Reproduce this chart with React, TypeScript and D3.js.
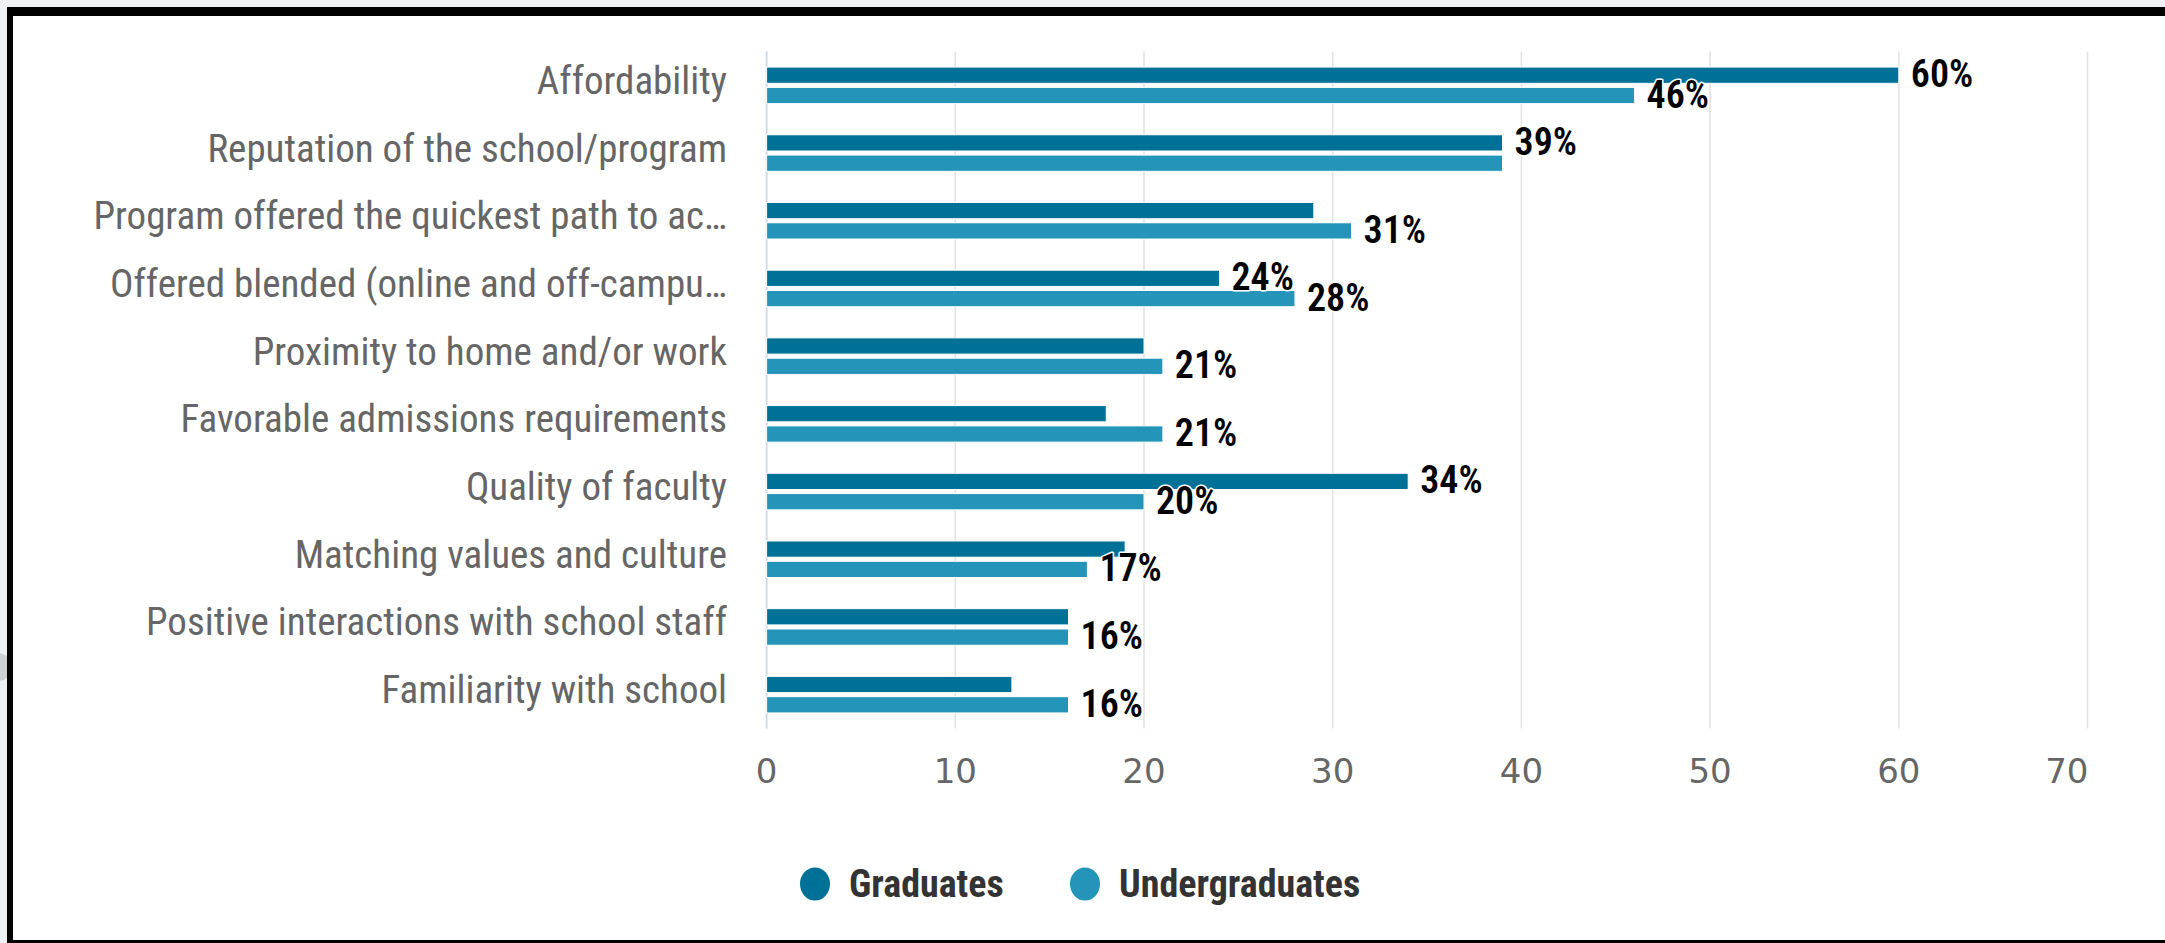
import React from "react";
import * as d3 from "d3";

const categories = [
  "Affordability",
  "Reputation of the school/program",
  "Program offered the quickest path to ac…",
  "Offered blended (online and off-campu…",
  "Proximity to home and/or work",
  "Favorable admissions requirements",
  "Quality of faculty",
  "Matching values and culture",
  "Positive interactions with school staff",
  "Familiarity with school",
];
const seriesNames = ["Graduates", "Undergraduates"];
const graduates = [60, 39, 29, 24, 20, 18, 34, 19, 16, 13];
const undergraduates = [46, 39, 31, 28, 21, 21, 20, 17, 16, 16];
// which data labels survive the overlap hiding in the original
const graduatesLabelShown = [true, true, false, true, false, false, true, false, false, false];
const undergraduatesLabelShown = [true, false, true, true, true, true, true, true, true, true];
const xTicks = [0, 10, 20, 30, 40, 50, 60, 70];

const W = 2165;
const H = 943;
const COLORS = ["#007196", "#2494b9"];
const NARROW = "'Liberation Sans Narrow', 'Arial Narrow', 'Roboto Condensed', 'Liberation Sans', sans-serif";

export default function App() {
  const x = d3.scaleLinear().domain([0, 70]).range([766.6, 2087.5]);
  const y = d3.scaleBand<string>().domain(categories).range([51.5, 728.5]);
  const bw = y.bandwidth();
  const inner = d3
    .scaleBand<string>()
    .domain(seriesNames)
    .range([0.2 * bw, 0.8 * bw])
    .paddingInner(0.2)
    .paddingOuter(0.1);
  const series = [
    { name: seriesNames[0], values: graduates, shown: graduatesLabelShown, color: COLORS[0] },
    { name: seriesNames[1], values: undergraduates, shown: undergraduatesLabelShown, color: COLORS[1] },
  ];
  const [y0, y1] = y.range();
  const lastTick = xTicks[xTicks.length - 1];

  return (
    <div style={{ position: "absolute", left: 0, top: 0, width: W, height: H }}>
      <svg width={W} height={H} style={{ display: "block" }}>
        <rect x={0} y={0} width={W} height={H} fill="#eef0f4" />
        <circle cx={-2} cy={667} r={14} fill="#cfd0d3" />
        <rect x={7} y={7} width={W - 7} height={H - 7} fill="#000" />
        <rect x={13} y={16} width={W - 13} height={H - 16 - 3} fill="#fff" />

        {/* gridlines */}
        {xTicks.map((t) => (
          <line
            key={"g" + t}
            x1={x(t)}
            x2={x(t)}
            y1={y0}
            y2={y1}
            stroke="#e3e3e3"
            strokeWidth={1.6}
          />
        ))}
        <line x1={x(0)} x2={x(0)} y1={y0} y2={y1} stroke="#ccd6eb" strokeWidth={1.6} />

        {/* category labels */}
        {categories.map((c) => (
          <text
            key={"c" + c}
            x={727}
            y={(y(c) as number) + bw / 2 + 8.5}
            textAnchor="end"
            fontFamily={NARROW}
            fontSize={39}
            fill="#666"
          >
            {c}
          </text>
        ))}

        {/* bars */}
        {series.map((s) =>
          categories.map((c, i) => {
            const by = (y(c) as number) + (inner(s.name) as number);
            return (
              <rect
                key={s.name + c}
                x={x(0)}
                y={by}
                width={x(s.values[i]) - x(0)}
                height={inner.bandwidth()}
                fill={s.color}
                stroke="#fff"
                strokeWidth={1}
              />
            );
          })
        )}

        {/* data labels */}
        {series.map((s) =>
          categories.map((c, i) => {
            if (!s.shown[i]) return null;
            const cy = (y(c) as number) + (inner(s.name) as number) + inner.bandwidth() / 2;
            return (
              <text
                key={"l" + s.name + c}
                x={x(s.values[i]) + 12}
                y={cy + 12}
                fontFamily={NARROW}
                fontSize={38}
                fontWeight={600}
                fill="#000"
                stroke="#fff"
                strokeWidth={3}
                strokeLinejoin="round"
                style={{ paintOrder: "stroke" }}
              >
                {s.values[i] + "%"}
              </text>
            );
          })
        )}

        {/* x axis tick labels (last one justified inside the chart) */}
        {xTicks.map((t) => (
          <text
            key={"t" + t}
            x={t === lastTick ? x(t) + 1 : x(t)}
            y={783}
            textAnchor={t === lastTick ? "end" : "middle"}
            fontFamily="'DejaVu Sans', Verdana, sans-serif"
            fontSize={34}
            fill="#666"
          >
            {t}
          </text>
        ))}

        {/* legend */}
        {series.map((s, i) => {
          const lx = [815, 1085][i];
          return (
            <g key={"lg" + s.name}>
              <ellipse cx={lx} cy={884} rx={15} ry={16.5} fill={s.color} />
              <text
                x={lx + 34}
                y={897}
                fontFamily={NARROW}
                fontSize={38}
                fontWeight="bold"
                fill="#333"
              >
                {s.name}
              </text>
            </g>
          );
        })}
      </svg>
    </div>
  );
}
